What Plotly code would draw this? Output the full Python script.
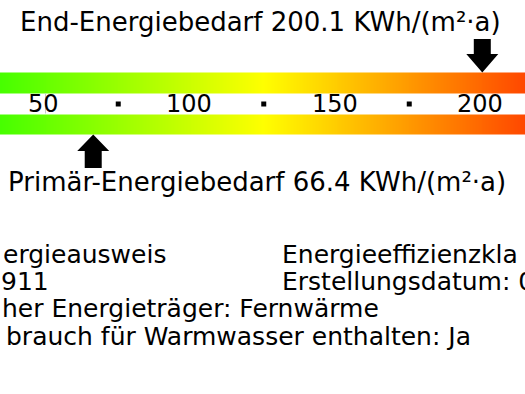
import numpy as np
import plotly.graph_objects as go

# ---- data ----
end_energy = 200.1          # End-Energiebedarf KWh/(m²·a)
primary_energy = 66.4       # Primär-Energiebedarf KWh/(m²·a)
scale_min, scale_mid, scale_max = 0, 125, 250
tick_values = [50, 100, 150, 200]
tick_labels = ["50", "100", "150", "200"]
dot_values = [75, 125, 175]
info_left = ["ergieausweis", "911", "her Energieträger: Fernwärme",
             "brauch für Warmwasser enthalten: Ja"]
info_right = ["Energieeffizienzkla", "Erstellungsdatum: 0"]

# ---- geometry (pixels) ----
W, H = 525, 394
K = 2.91          # px per unit
X50 = 45.5        # pixel x of value 50
def px2v(px):
    return 50 + (px - X50) / K

xr = [px2v(0), px2v(W)]
FONT = "DejaVu Sans"

fig = go.Figure()

# gradient bars (heatmap)
edges = np.arange(scale_min, scale_max + 0.5, 0.5)
mids = (edges[:-1] + edges[1:]) / 2
z = [list(mids), [None] * len(mids), list(mids)]
fig.add_trace(go.Heatmap(
    x=edges, y=[72.5, 93, 114, 134.5], z=z,
    zmin=scale_min, zmax=scale_max,
    colorscale=[[0, "#00ff00"], [scale_mid / scale_max, "#ffff00"], [1, "#ff0000"]],
    showscale=False, hoverinfo="skip"))

# arrows
hw, sw = 16 / K, 8.5 / K
v = end_energy
fig.add_trace(go.Scatter(
    x=[v, v - hw, v - sw, v - sw, v + sw, v + sw, v + hw, v],
    y=[72.5, 54, 54, 39, 39, 54, 54, 72.5],
    fill="toself", fillcolor="black", line=dict(color="black", width=0),
    mode="lines", hoverinfo="skip"))
v = primary_energy
fig.add_trace(go.Scatter(
    x=[v, v - hw, v - sw, v - sw, v + sw, v + sw, v + hw, v],
    y=[134.5, 151, 151, 168, 168, 151, 151, 134.5],
    fill="toself", fillcolor="black", line=dict(color="black", width=0),
    mode="lines", hoverinfo="skip"))

# separator dots
fig.add_trace(go.Scatter(
    x=dot_values, y=[104] * len(dot_values), mode="markers",
    marker=dict(symbol="square", size=5, color="black"), hoverinfo="skip"))

# thin mark at 50
fig.add_shape(type="line", x0=50, x1=50, y0=93.5, y1=113.5,
              line=dict(color="#c8c8c8", width=1))

# tick labels
for tv, tl in zip(tick_values, tick_labels):
    fig.add_annotation(x=tv, y=104, text=tl, showarrow=False, xshift=-2,
                       font=dict(family=FONT, size=24, color="black"),
                       xanchor="center", yanchor="middle")

# headers
fig.add_annotation(x=px2v(260.5), y=21.5,
                   text=f"End-Energiebedarf {end_energy} KWh/(m²·a)",
                   showarrow=False, font=dict(family=FONT, size=26, color="black"),
                   xanchor="center", yanchor="middle")
fig.add_annotation(x=px2v(256.7), y=181.5,
                   text=f"Primär-Energiebedarf {primary_energy} KWh/(m²·a)",
                   showarrow=False, font=dict(family=FONT, size=26, color="black"),
                   xanchor="center", yanchor="middle")

# info texts
left_shift = [0, -2, -1, 3]
ys = [254.4, 281.6, 308.8, 336.0]
for t, sh, yy in zip(info_left, left_shift, ys):
    fig.add_annotation(x=px2v(0.5), y=yy, xshift=sh, text=t, showarrow=False,
                       font=dict(family=FONT, size=25, color="black"),
                       xanchor="left", yanchor="middle")
for t, yy in zip(info_right, ys[:2]):
    fig.add_annotation(x=px2v(280), y=yy, text=t, showarrow=False,
                       font=dict(family=FONT, size=25, color="black"),
                       xanchor="left", yanchor="middle")

fig.update_xaxes(range=xr, visible=False, fixedrange=True)
fig.update_yaxes(range=[H, 0], visible=False, fixedrange=True)
fig.update_layout(width=W, height=H, margin=dict(l=0, r=0, t=0, b=0),
                  paper_bgcolor="white", plot_bgcolor="white", showlegend=False)

fig.write_html("out.html")
